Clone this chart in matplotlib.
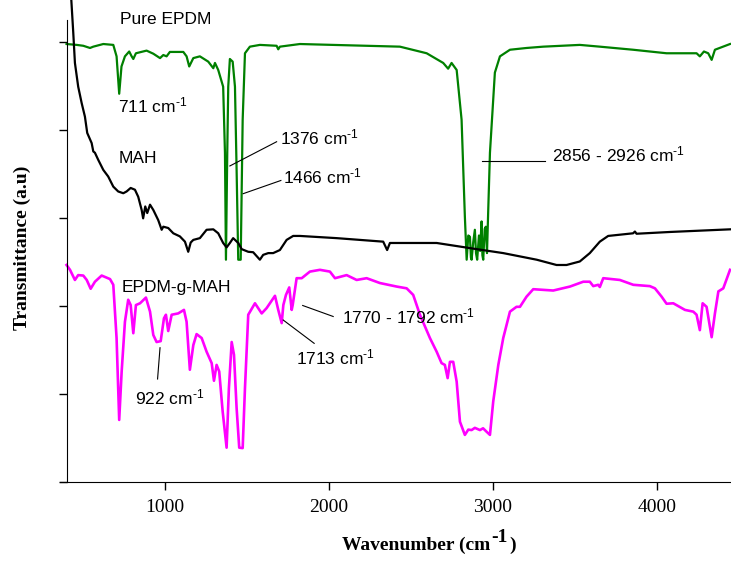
import matplotlib
matplotlib.use("Agg")
import matplotlib.pyplot as plt

plt.rcParams["font.family"] = ["Liberation Sans", "DejaVu Sans"]
plt.rcParams["mathtext.fontset"] = "custom"
plt.rcParams["mathtext.rm"] = "Liberation Sans"
plt.rcParams["mathtext.default"] = "rm"

# Pure EPDM (green)
epdm_x = [400, 462, 502, 543, 563, 624, 685, 705, 721, 735, 756, 782, 797, 807,
          823, 888, 929, 970, 990, 1010, 1030, 1112, 1132, 1148, 1173, 1213,
          1264, 1295, 1305, 1325, 1355, 1366, 1372, 1380, 1386, 1396, 1413,
          1427, 1437, 1447, 1462, 1474, 1488, 1518, 1579, 1681, 1691, 1701,
          1823, 2024, 2433, 2596, 2697, 2727, 2748, 2779, 2809, 2829, 2840,
          2850, 2860, 2866, 2870, 2880, 2890, 2897, 2904, 2915, 2922, 2931,
          2936, 2941, 2950, 2957, 2964, 2971, 2982, 3012, 3043, 3104, 3205,
          3307, 3530, 3652, 3855, 4059, 4242, 4262, 4287, 4313, 4334, 4354,
          4446]
epdm_y = [99.5, 99.3, 99.1, 98.6, 98.9, 99.5, 99.3, 96.7, 88.2, 94.4, 96.7,
          97.8, 96.7, 96.1, 97.4, 98.0, 97.3, 96.3, 97.0, 96.7, 97.7, 97.7,
          96.7, 94.4, 96.3, 96.7, 95.5, 94.0, 95.2, 93.6, 89.8, 74.8, 50.5,
          74.8, 89.8, 96.1, 95.5, 89.8, 70.9, 50.5, 50.5, 82.3, 97.4, 98.9,
          99.3, 99.1, 98.3, 98.9, 99.5, 99.3, 98.9, 97.4, 95.2, 93.9, 95.2,
          93.6, 82.3, 60.3, 50.5, 56.0, 55.7, 51.0, 50.5, 54.5, 57.3, 52.0,
          50.5, 56.0, 52.5, 59.2, 51.5, 50.5, 57.5, 58.0, 52.0, 61.1, 74.8,
          93.0, 96.7, 98.2, 98.6, 98.9, 99.3, 98.9, 98.2, 97.4, 97.4, 96.7,
          97.8, 97.4, 95.9, 98.2, 99.5]

# MAH (black)
mah_x = [425, 441, 451, 471, 492, 512, 526, 553, 563, 573, 593, 624, 654, 685,
         715, 746, 766, 791, 817, 837, 858, 867, 880, 892, 909, 929, 959, 980,
         990, 1020, 1051, 1091, 1122, 1142, 1157, 1173, 1213, 1254, 1295, 1325,
         1355, 1376, 1396, 1416, 1447, 1468, 1508, 1538, 1579, 1599, 1630,
         1660, 1701, 1742, 1782, 1823, 2047, 2331, 2355, 2372, 2657, 2901,
         3063, 3267, 3388, 3449, 3530, 3591, 3652, 3703, 3855, 3866, 3876,
         4079, 4446]
mah_y = [112.0, 102.0, 95.2, 89.8, 86.1, 83.0, 79.3, 77.0, 75.1, 74.8, 73.2,
         70.9, 69.4, 67.1, 66.0, 65.6, 66.0, 66.8, 66.4, 64.8, 61.8, 59.9,
         62.6, 61.1, 63.0, 61.8, 59.5, 57.3, 58.0, 57.7, 56.5, 55.8, 54.6,
         52.3, 54.4, 55.0, 55.4, 57.3, 57.4, 56.5, 54.3, 53.3, 54.3, 55.4,
         54.3, 52.9, 52.3, 52.2, 50.5, 51.6, 52.0, 52.0, 52.7, 55.0, 55.9,
         55.9, 55.4, 54.6, 52.7, 54.3, 54.3, 52.9, 52.0, 50.5, 49.3, 49.3,
         50.1, 52.0, 54.6, 55.9, 56.5, 56.9, 56.4, 56.8, 57.4]

# EPDM-g-MAH (magenta)
graft_x = [400, 421, 451, 471, 502, 523, 547, 573, 614, 665, 685, 705, 721,
           736, 756, 776, 791, 807, 823, 848, 884, 909, 929, 949, 974, 994,
           1006, 1020, 1041, 1081, 1116, 1132, 1152, 1173, 1193, 1224, 1254,
           1285, 1299, 1315, 1331, 1352, 1376, 1390, 1407, 1421, 1437, 1453,
           1474, 1488, 1508, 1549, 1590, 1620, 1671, 1691, 1712, 1722, 1738,
           1758, 1773, 1779, 1803, 1834, 1884, 1945, 2006, 2037, 2108, 2169,
           2230, 2311, 2413, 2474, 2514, 2555, 2616, 2657, 2687, 2707, 2724,
           2738, 2758, 2779, 2799, 2829, 2850, 2870, 2890, 2921, 2940, 2962,
           2982, 3002, 3033, 3063, 3104, 3144, 3165, 3205, 3246, 3368, 3470,
           3551, 3591, 3612, 3642, 3652, 3673, 3774, 3856, 3957, 3988, 4029,
           4059, 4100, 4171, 4222, 4242, 4262, 4279, 4303, 4334, 4354, 4375,
           4405, 4446]
graft_y = [49.3, 48.2, 45.9, 47.0, 46.9, 45.9, 43.9, 45.5, 46.9, 46.1, 44.8,
           32.7, 14.1, 25.1, 36.4, 41.4, 40.2, 33.8, 40.2, 40.6, 41.9, 38.7,
           33.4, 31.8, 32.0, 37.2, 38.0, 34.3, 38.0, 38.3, 39.1, 36.4, 25.5,
           31.1, 33.6, 32.7, 29.6, 27.0, 23.0, 26.6, 25.1, 16.0, 7.8, 21.3,
           31.8, 28.9, 16.8, 7.8, 7.7, 21.3, 38.0, 40.6, 38.3, 39.5, 42.3,
           39.1, 36.1, 40.2, 42.5, 44.2, 39.1, 40.2, 46.3, 46.3, 47.8, 48.2,
           47.8, 46.3, 47.0, 45.9, 46.3, 45.2, 44.4, 44.0, 42.5, 38.0, 32.7,
           29.6, 27.0, 26.6, 23.6, 27.3, 27.3, 22.8, 13.7, 10.7, 11.9, 11.8,
           12.3, 11.8, 12.2, 11.4, 10.7, 18.3, 26.6, 32.7, 38.7, 39.8, 39.8,
           42.1, 43.8, 43.5, 44.4, 45.5, 45.5, 44.5, 44.8, 44.3, 46.3, 45.9,
           44.8, 44.5, 44.0, 42.1, 40.5, 40.6, 39.1, 38.7, 38.0, 34.5, 40.6,
           39.8, 32.9, 38.3, 43.3, 44.0, 48.2]

fig = plt.figure(figsize=(7.31, 5.75), dpi=100)
ax = fig.add_axes([60 / 731, 1 - 482 / 575, 1 - 60 / 731, 482 / 575])

ax.plot(epdm_x, epdm_y, color="#008000", lw=1.6)
ax.plot(mah_x, mah_y, color="black", lw=1.6)
ax.plot(graft_x, graft_y, color="#ff00ff", lw=1.9)

ax.set_xlim(360, 4452)
ax.set_ylim(0, 109.5)
ax.spines["top"].set_visible(False)
ax.spines["right"].set_visible(False)
ax.spines["left"].set_position(("data", 400))
ax.spines["left"].set_bounds(0, 105)
ax.set_xticks([1000, 2000, 3000, 4000])
ax.set_yticks([0, 20, 40, 60, 80, 100])
ax.set_yticklabels([])
ax.tick_params(direction="out", length=6, width=1, pad=6)
for lab in ax.get_xticklabels():
    lab.set_family("Liberation Serif")
    lab.set_fontsize(14)

sup = r"$^{\text{-1}}$"
fs = 12.5
ax.text(726, 105, "Pure EPDM", fontsize=fs, va="center")
ax.text(713, 85.5, "711 cm" + sup, fontsize=fs, va="center")
ax.text(720, 73.6, "MAH", fontsize=fs, va="center")
ax.text(736, 44.1, "EPDM-g-MAH", fontsize=fs, va="center")

notes = [
    ("1376 cm" + sup, (1701, 78.2), (1396, 71.8), (1681, 77.3)),
    ("1466 cm" + sup, (1720, 69.5), (1477, 65.5), (1707, 68.5)),
    ("2856 - 2926 cm" + sup, (3360, 74.3), (2933, 73.0), (3320, 73.0)),
    ("922 cm" + sup, (817, 19.1), (970, 30.5), (955, 23.4)),
    ("1713 cm" + sup, (1799, 28.2), (1721, 36.8), (1910, 31.5)),
    ("1770 - 1792 cm" + sup, (2077, 37.6), (1840, 40.1), (2026, 37.6)),
]
for label, txt, p0, p1 in notes:
    ax.plot([p0[0], p1[0]], [p0[1], p1[1]], color="black", lw=0.8)
    ax.text(txt[0], txt[1], label, fontsize=fs, va="center")

lab_kw = dict(family="Liberation Serif", weight="bold", fontsize=14, va="center")
fig.text(490 / 731, 1 - 545 / 575, "Wavenumber (cm", ha="right", **lab_kw)
fig.text(491 / 731, 1 - 537 / 575, "-1", ha="left", **lab_kw)
fig.text(509 / 731, 1 - 545 / 575, ")", ha="left", **lab_kw)
fig.text(22 / 731, 1 - 248 / 575, "Transmittance (a.u)", ha="center",
         rotation=90, **lab_kw)

fig.savefig("out.png", dpi=100)
